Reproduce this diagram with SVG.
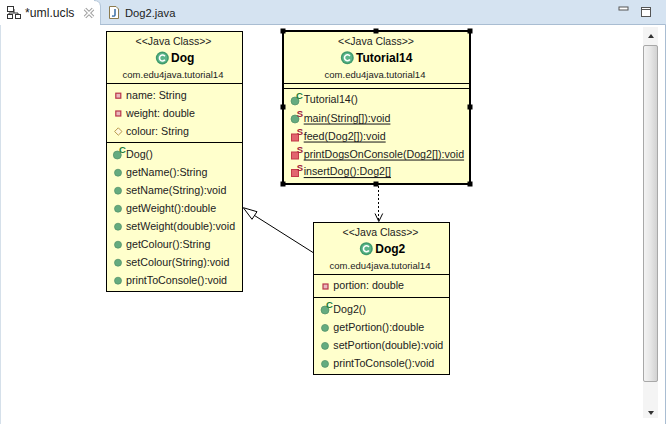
<svg xmlns="http://www.w3.org/2000/svg" width="666" height="428" viewBox="0 0 666 428">
<style>
text{font-family:"Liberation Sans",Arial,sans-serif;fill:#222;dominant-baseline:central}
.m{font-size:10.7px;transform:translate(0,-1px)}
.s{font-size:10.5px;text-anchor:middle}
.p{font-size:9.5px;text-anchor:middle}
.t{font-size:12px;font-weight:bold;fill:#000}
.tab{font-size:12.2px}
.u{text-decoration:underline}
.c{font-size:9.5px;font-weight:bold;fill:#1a7a3a;text-anchor:middle}
.st{font-size:9.5px;font-weight:bold;fill:#a01c3c;text-anchor:middle}
.box{fill:#ffffcc;stroke:#000;stroke-width:1}
.sel{fill:#ffffcc;stroke:#000;stroke-width:2}
.sep{stroke:#000;stroke-width:1;fill:none}
.h{fill:#000}
.conn{fill:none;stroke:#000;stroke-width:1}
</style>
<defs>
<linearGradient id="thumb" x1="0" x2="1" y1="0" y2="0"><stop offset="0" stop-color="#f4f4f4"/><stop offset="0.5" stop-color="#e6e6e6"/><stop offset="1" stop-color="#d0d0d0"/></linearGradient>
<g id="cls"><circle r="6.5" fill="#3f9a6c"/><circle r="5" fill="#5cb58a"/><path d="M2.6-1.8A3 3 0 1 0 2.6 1.8" fill="none" stroke="#fff" stroke-width="1.6"/></g>
<g id="pub"><circle r="3.5" fill="#65ab7f" stroke="#4f8e67" stroke-width="0.7"/></g>
<g id="priv"><rect x="-2.500" y="-2.500" width="5" height="5" fill="#e9b7bd" stroke="#b8354a" stroke-width="1.2"/></g>
<g id="pkg"><path d="M0-3.700L3.700 0L0 3.700L-3.700 0Z" fill="#fff8dc" stroke="#b89a4a" stroke-width="1"/></g>
<g id="ctor"><circle r="4" fill="#65ab7f" stroke="#4f8e67" stroke-width="0.7"/></g>
<g id="sm"><rect x="-3.500" y="-3.500" width="7" height="7" fill="#e2656f" stroke="#c23a48" stroke-width="1"/></g>
<rect id="hd" x="-2.500" y="-2.500" width="5" height="5" class="h"/>
</defs>

<rect width="666" height="428" fill="#fff"/>
<g id="chrome">
<rect x="0" y="0" width="666" height="25" fill="#d5e3f1"/>
<path d="M0 25V0H94Q100 0 100 6V25Z" fill="#fff"/>
<path d="M100 24.500H665.500V424" fill="none" stroke="#a9bdd2"/>
<path d="M0.500 25V424" fill="none" stroke="#d5e0ea"/>
<path d="M94 0.500Q100 0.500 100.500 6V24" fill="none" stroke="#b4c6d8"/>
<g id="tab-icon-uml" fill="#fff" stroke="#333" stroke-width="1"><path d="M14 9V13M11 16H9V13H18V16" fill="none"/><rect x="7.500" y="6.500" width="6" height="5"/><rect x="7.500" y="14.500" width="5" height="4"/><rect x="15.500" y="14.500" width="5" height="4"/></g>
<text class="tab" x="25" y="13">*uml.ucls</text>
<path d="M85 9L93 17M93 9L85 17" stroke="#a0a0a0" stroke-width="3.500" fill="none"/>
<path d="M85 9L93 17M93 9L85 17" stroke="#fff" stroke-width="1.500" fill="none"/>
<path d="M109.500 6.500H116L118.500 9V18.500H109.500Z" fill="#fff" stroke="#8c7b4f"/>
<path d="M115 9V15Q115 16.500 112 16" fill="none" stroke="#3a6ea5" stroke-width="1.500"/>
<text class="tab" x="125" y="13" style="font-size:11.200px">Dog2.java</text>
<rect x="619" y="7" width="9" height="3" fill="#fff" stroke="#555"/>
<rect x="641.500" y="7.500" width="9" height="9" fill="#fff" stroke="#555"/>
<path d="M641.500 9.500H650.500" stroke="#555"/>
<rect x="643" y="27" width="15" height="391" fill="#f4f4f4"/>
<rect x="643.500" y="45.500" width="14" height="336" fill="url(#thumb)" stroke="#a8a8a8" rx="1.500"/>
<path d="M648 38L651 34L654 38Z" fill="#333"/>
<path d="M648 411H654L651 415Z" fill="#333"/>
</g>

<g id="connectors">
<path class="conn" d="M313.300 252.700L254.500 215.500"/>
<path d="M243.300 207.700L257 211.700L252 219.300Z" fill="#fff" stroke="#000"/>
<path class="conn" stroke-dasharray="2 2" d="M378.500 186V221"/>
<path class="conn" d="M375 213.500L378.800 221.500L382.700 213.500"/>
</g>

<g id="node-dog">
<rect class="box" x="106.500" y="31.500" width="136" height="260"/>
<path class="sep" d="M106.500 83.500H242.500M106.500 142.500H242.500"/>
<text class="s" x="173.500" y="41">&lt;&lt;Java Class&gt;&gt;</text>
<use href="#cls" x="162.300" y="58"/>
<text class="t" x="171" y="58">Dog</text>
<text class="p" x="173" y="74">com.edu4java.tutorial14</text>
<use href="#priv" x="118.300" y="95.700"/><text class="m" x="126" y="95.500">name: String</text>
<use href="#priv" x="118.300" y="113.500"/><text class="m" x="126" y="113.500">weight: double</text>
<use href="#pkg" x="118.300" y="131.500"/><text class="m" x="126" y="131.500">colour: String</text>
<use href="#ctor" x="117.300" y="155"/><text class="c" x="122.500" y="149">C</text>
<text class="m" x="126" y="154.500">Dog()</text>
<use href="#pub" x="118" y="172.700"/><text class="m" x="126" y="172.500">getName():String</text>
<use href="#pub" x="118" y="190.700"/><text class="m" x="126" y="190.500">setName(String):void</text>
<use href="#pub" x="118" y="208.700"/><text class="m" x="126" y="208.500">getWeight():double</text>
<use href="#pub" x="118" y="226.700"/><text class="m" x="126" y="226.500">setWeight(double):void</text>
<use href="#pub" x="118" y="244.700"/><text class="m" x="126" y="244.500">getColour():String</text>
<use href="#pub" x="118" y="262.700"/><text class="m" x="126" y="262.500">setColour(String):void</text>
<use href="#pub" x="118" y="280.700"/><text class="m" x="126" y="280.500">printToConsole():void</text>
</g>

<g id="node-tutorial14">
<rect class="sel" x="283" y="31" width="187" height="153"/>
<path class="sep" d="M283 83.500H470M283 88.500H470"/>
<text class="s" x="376" y="41">&lt;&lt;Java Class&gt;&gt;</text>
<use href="#cls" x="347.300" y="57.700"/>
<text class="t" x="356" y="58">Tutorial14</text>
<text class="p" x="375" y="74">com.edu4java.tutorial14</text>
<use href="#ctor" x="295" y="101"/><text class="c" x="299.500" y="95">C</text>
<text class="m" x="303.700" y="100">Tutorial14()</text>
<use href="#ctor" x="295" y="119"/><text class="st" x="300" y="113">S</text>
<text class="m u" x="303.700" y="118.500">main(String[]):void</text>
<use href="#sm" x="295" y="137.500"/><text class="st" x="300" y="131.500">S</text>
<text class="m u" x="303.700" y="136.500">feed(Dog2[]):void</text>
<use href="#sm" x="295" y="155.500"/><text class="st" x="300" y="149.500">S</text>
<text class="m u" x="303.700" y="154.500">printDogsOnConsole(Dog2[]):void</text>
<use href="#sm" x="295" y="173"/><text class="st" x="300" y="167">S</text>
<text class="m u" x="303.700" y="172">insertDog():Dog2[]</text>
<use href="#hd" x="283" y="31"/><use href="#hd" x="376" y="31"/><use href="#hd" x="470" y="31"/>
<use href="#hd" x="283" y="107"/><use href="#hd" x="470" y="107"/>
<use href="#hd" x="283" y="184"/><use href="#hd" x="376" y="184"/><use href="#hd" x="470" y="184"/>
</g>

<g id="node-dog2">
<rect class="box" x="313.500" y="222.500" width="136" height="152"/>
<path class="sep" d="M313.500 274.500H449.500M313.500 297.500H449.500"/>
<text class="s" x="380.500" y="232.300">&lt;&lt;Java Class&gt;&gt;</text>
<use href="#cls" x="366.300" y="248.700"/>
<text class="t" x="375.300" y="249">Dog2</text>
<text class="p" x="380" y="265">com.edu4java.tutorial14</text>
<use href="#priv" x="325.500" y="286.500"/><text class="m" x="333.300" y="286.300">portion: double</text>
<use href="#ctor" x="325" y="310"/><text class="c" x="329.500" y="304">C</text>
<text class="m" x="333.300" y="309.700">Dog2()</text>
<use href="#pub" x="325" y="327.900"/><text class="m" x="333.300" y="327.700">getPortion():double</text>
<use href="#pub" x="325" y="345.900"/><text class="m" x="333.300" y="345.700">setPortion(double):void</text>
<use href="#pub" x="325" y="363.900"/><text class="m" x="333.300" y="363.700">printToConsole():void</text>
</g>
</svg>
